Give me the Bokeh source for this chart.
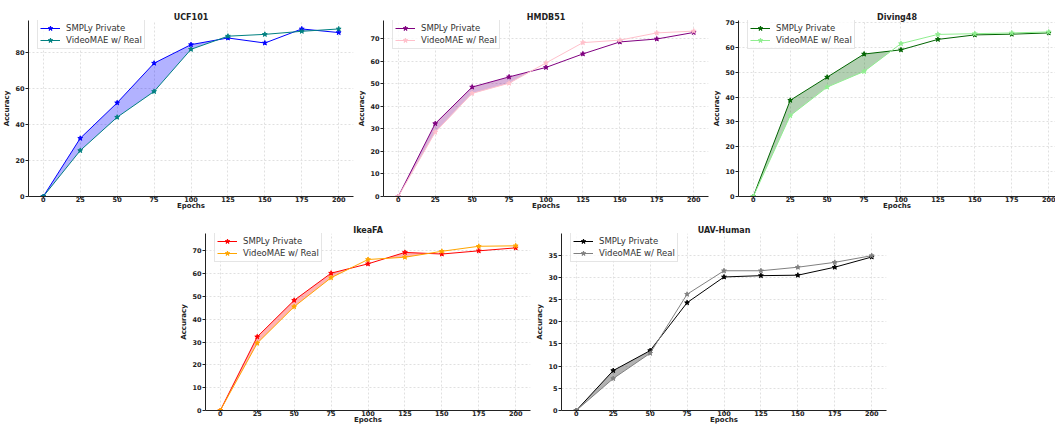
import numpy as np
from bokeh.plotting import figure
from bokeh.layouts import column, row, Spacer
from bokeh.models import Range1d, Legend, LegendItem, FixedTicker
from bokeh.embed import file_html
from bokeh.resources import INLINE

epochs = [0, 25, 50, 75, 100, 125, 150, 175, 200]

titles = ["UCF101", "HMDB51", "Diving48", "IkeaFA", "UAV-Human"]

ucf_smply = [0, 32.3, 52.0, 74.0, 84.3, 88.0, 85.2, 93.0, 91.0]
ucf_real = [0, 25.5, 44.0, 58.3, 81.7, 89.0, 90.0, 91.7, 93.0]

hmdb_smply = [0, 32.3, 48.5, 53.0, 57.2, 63.2, 68.5, 69.8, 72.7]
hmdb_real = [0, 28.5, 45.7, 50.2, 59.2, 68.2, 69.3, 72.5, 73.3]

diving_smply = [0, 38.7, 48.0, 57.3, 59.0, 63.2, 65.0, 65.3, 65.8]
diving_real = [0, 32.5, 44.0, 50.3, 61.5, 65.2, 65.5, 65.8, 66.2]

ikea_smply = [0, 32.3, 48.3, 60.2, 64.3, 69.3, 68.6, 70.0, 71.3]
ikea_real = [0, 29.5, 45.5, 58.2, 66.2, 67.2, 69.8, 72.0, 72.2]

uav_smply = [0, 9.0, 13.5, 24.3, 30.1, 30.4, 30.5, 32.3, 34.6]
uav_real = [0, 7.2, 12.9, 26.2, 31.5, 31.5, 32.3, 33.4, 34.9]

smply_colors = ["#0000ff", "#800080", "#006400", "#ff0000", "#000000"]
real_colors = ["#008080", "#ffc0cb", "#90ee90", "#ffa500", "#808080"]
y_tops = [97.7, 78.0, 70.8, 77.6, 39.9]
y_steps = [20, 10, 10, 10, 5]

FONT = "DejaVu Sans"


def fill_arrays(x, s, v):
    x = np.asarray(x, float)
    s = np.asarray(s, float)
    v = np.asarray(v, float)
    xs, ss, vs = [], [], []
    for i in range(len(x)):
        xs.append(x[i]); ss.append(s[i]); vs.append(v[i])
        if i < len(x) - 1:
            d0 = s[i] - v[i]
            d1 = s[i + 1] - v[i + 1]
            if d0 * d1 < 0:
                t = d0 / (d0 - d1)
                xs.append(x[i] + t * (x[i + 1] - x[i]))
                ss.append(s[i] + t * (s[i + 1] - s[i]))
                vs.append(v[i] + t * (v[i + 1] - v[i]))
    xs = np.array(xs); ss = np.array(ss); vs = np.array(vs)
    return xs, vs, np.maximum(ss, vs)


def make_fig(idx, smply, real, width, height, bl, br, bt, bb, xmax=210):
    p = figure(width=width, height=height, output_backend="svg",
               toolbar_location=None,
               x_range=Range1d(-10, xmax), y_range=Range1d(0, y_tops[idx]),
               min_border_left=bl, min_border_right=br,
               min_border_top=bt, min_border_bottom=bb)
    p.title.text = titles[idx]
    p.title.align = "center"
    p.title.text_font = FONT
    p.title.text_font_size = "8px"
    p.title.text_font_style = "bold"
    p.title.text_color = "#222222"
    p.title.standoff = -2
    p.title.offset = 0
    p.outline_line_color = None
    p.background_fill_color = "white"

    xs, lo, hi = fill_arrays(epochs, smply, real)
    p.varea(x=xs, y1=lo, y2=hi, fill_color=smply_colors[idx], fill_alpha=0.3)

    l1 = p.line(epochs, smply, line_color=smply_colors[idx], line_width=1)
    m1 = p.scatter(epochs, smply, marker="star", size=5,
                   fill_color=smply_colors[idx], line_color=smply_colors[idx])
    l2 = p.line(epochs, real, line_color=real_colors[idx], line_width=1)
    m2 = p.scatter(epochs, real, marker="star", size=5,
                   fill_color=real_colors[idx], line_color=real_colors[idx])

    frame_h = height - bt - bb
    legend = Legend(items=[LegendItem(label="SMPLy Private", renderers=[l1, m1]),
                           LegendItem(label="VideoMAE w/ Real", renderers=[l2, m2])],
                    location=(9, frame_h - 29))
    legend.margin = 0
    legend.padding = 2
    legend.spacing = 0
    legend.label_text_font = FONT
    legend.label_text_font_size = "8.5px"
    legend.label_text_color = "#333333"
    legend.label_height = 12
    legend.glyph_height = 12
    legend.glyph_width = 20
    legend.label_standoff = 6
    legend.border_line_color = "#cccccc"
    legend.border_line_width = 1
    legend.background_fill_alpha = 0.8
    p.add_layout(legend)

    p.xaxis.ticker = FixedTicker(ticks=epochs)
    p.yaxis.ticker = FixedTicker(ticks=list(range(0, int(y_tops[idx]) + 1, y_steps[idx])))
    p.xaxis.axis_label = "Epochs"
    p.yaxis.axis_label = "Accuracy"
    for ax in (p.xaxis[0], p.yaxis[0]):
        ax.axis_label_text_font = FONT
        ax.axis_label_text_font_size = "7px"
        ax.axis_label_text_font_style = "bold"
        ax.axis_label_text_color = "#222222"
        ax.major_label_text_font = FONT
        ax.major_label_text_font_size = "6.5px"
        ax.major_label_text_font_style = "bold"
        ax.major_label_text_color = "#222222"
        ax.major_tick_in = 0
        ax.minor_tick_out = 0
        ax.minor_tick_in = 0
        ax.axis_line_color = "#222222"
        ax.major_tick_line_color = "#222222"
    p.xaxis.major_tick_out = 2
    p.xaxis.major_label_standoff = -2
    p.xaxis.axis_label_standoff = -3
    p.yaxis.major_tick_out = 3
    p.yaxis.major_label_standoff = 1
    p.yaxis.axis_label_standoff = 1
    for g in (p.xgrid[0], p.ygrid[0]):
        g.grid_line_color = "#e0e0e0"
        g.grid_line_dash = "2 2"
        g.grid_line_alpha = 1.0
    return p


f1 = make_fig(0, ucf_smply, ucf_real, 355, 213, 27, 2, 20, 17)
f2 = make_fig(1, hmdb_smply, hmdb_real, 355, 213, 27, 2, 20, 17)
f3 = make_fig(2, diving_smply, diving_real, 345, 213, 27, 0, 20, 17, xmax=204.6)
f4 = make_fig(3, ikea_smply, ikea_real, 356, 214, 27, 3, 20, 17)
f5 = make_fig(4, uav_smply, uav_real, 355, 214, 27, 2, 20, 17)

layout = column(row(f1, f2, f3), row(Spacer(width=177), f4, f5))

open("out.html", "w").write(file_html(layout, INLINE))
